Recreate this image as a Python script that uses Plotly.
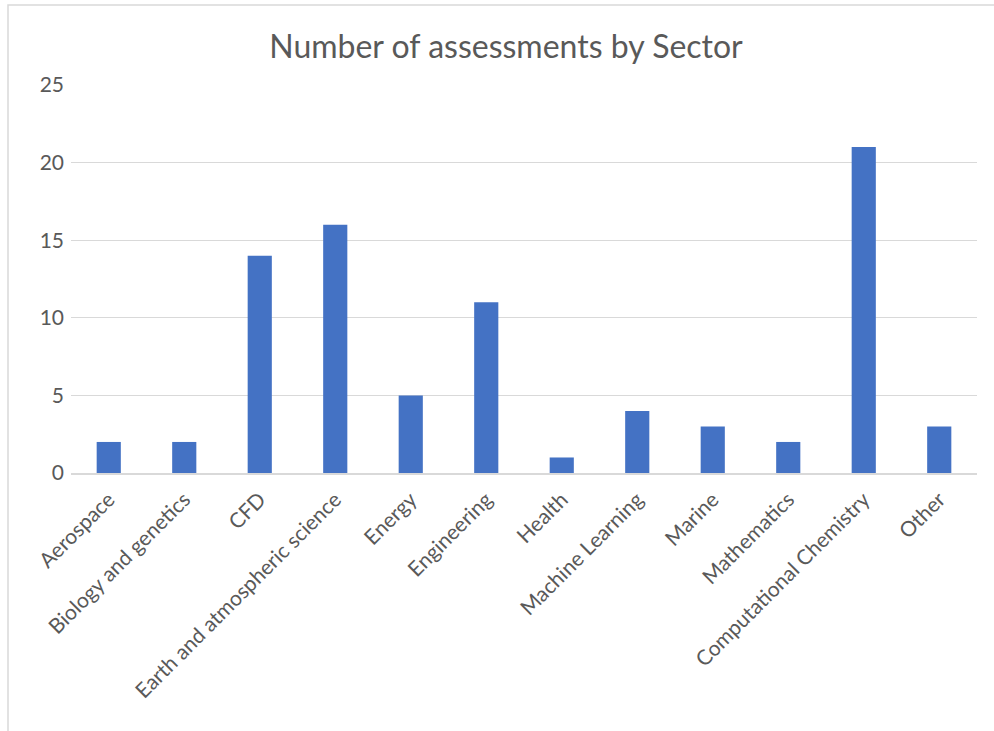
import plotly.graph_objects as go

categories = ["Aerospace", "Biology and genetics", "CFD", "Earth and atmospheric science",
              "Energy", "Engineering", "Health", "Machine Learning", "Marine",
              "Mathematics", "Computational Chemistry", "Other"]
counts = [2, 2, 14, 16, 5, 11, 1, 4, 3, 2, 21, 3]
y_ticks = [0, 5, 10, 15, 20, 25]

W, H = 994, 731
L, R, T, B = 71, 17, 85, 258
pw, ph = W - L - R, H - T - B

fig = go.Figure(go.Bar(x=categories, y=counts, marker_color="#4472C4",
                       marker_line_width=0, width=0.32))

grey = "#595959"
fig.update_layout(
    width=W, height=H,
    margin=dict(l=L, r=R, t=T, b=B),
    paper_bgcolor="white", plot_bgcolor="white",
    font=dict(family="Lato", color=grey, size=21),
    title=dict(text="Number of assessments by Sector", x=506 / W, xref="container",
               y=1 - 47 / H, yref="container", xanchor="center", yanchor="middle",
               font=dict(family="Lato", size=32, color=grey)),
    showlegend=False,
)
fig.update_yaxes(range=[0, 25], tickvals=y_ticks, showgrid=True, gridcolor="#D9D9D9",
                 gridwidth=1, zeroline=False, showline=False, ticks="",
                 ticklabelstandoff=6, tickfont=dict(size=21, color=grey))
fig.update_xaxes(showline=True, linecolor="#D9D9D9", linewidth=2, ticks="",
                 tickangle=-45, tickfont=dict(size=21, color=grey), ticklabelstandoff=4)

# chart-area border (top and left visible)
x_left = (8 - L) / pw
y_top = 1 + (T - 5) / ph
y_bot = -(H - T - ph + 5) / ph
x_right = 1 + (R + 5) / pw
fig.add_shape(type="path", xref="paper", yref="paper",
              path=f"M {x_left} {y_bot} L {x_left} {y_top} L {x_right} {y_top}",
              line=dict(color="#D9D9D9", width=1.5))

fig.write_html("out.html", config={"displayModeBar": False},
               post_script="document.body.style.margin='0';document.body.style.overflow='hidden';")
